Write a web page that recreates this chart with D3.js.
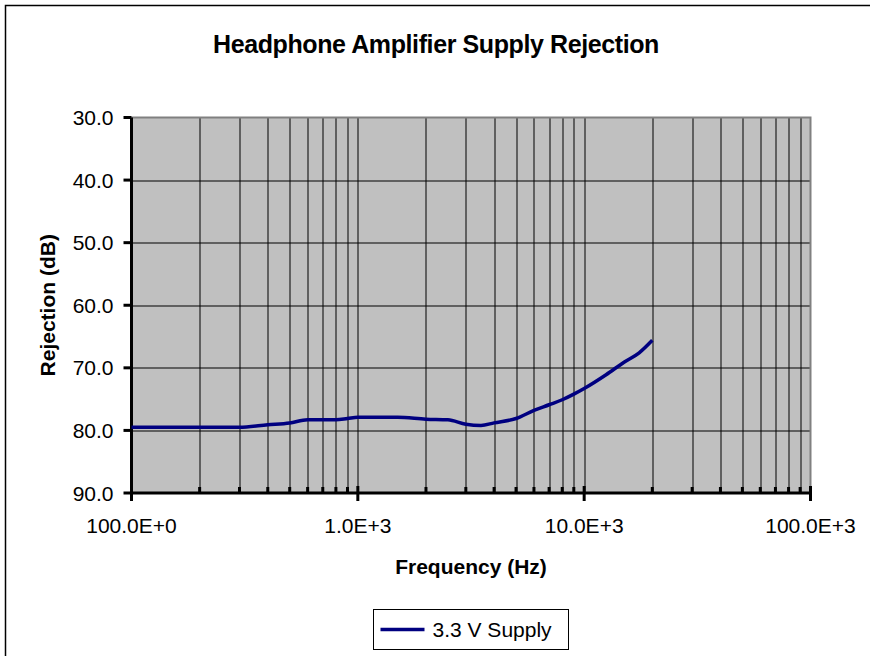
<!DOCTYPE html>
<html>
<head>
<meta charset="utf-8">
<script src="https://cdn.jsdelivr.net/npm/d3@7"></script>
<style>
  body { margin: 0; background: #fff; }
  svg { display: block; font-family: "Liberation Sans", Arial, sans-serif; }
</style>
</head>
<body>
<svg id="chart" width="870" height="656"></svg>
<script>
// data
const freqs = [100, 200, 300, 400, 500, 600, 700, 800, 900, 1000, 1500, 2000, 2500,
  3000, 3500, 4000, 5000, 6000, 7000, 8000, 9000, 10000, 12500, 15000, 17500, 20000]
const rejection = [79.5, 79.5, 79.5, 79.1, 78.8, 78.3, 78.3, 78.3, 78.1, 77.9, 77.9, 78.2, 78.3,
  79.0, 79.2, 78.8, 78.1, 76.8, 75.9, 75.1, 74.2, 73.3, 71.1, 69.1, 67.6, 65.6]
const seriesName = '3.3 V Supply'
const yTicks = [30, 40, 50, 60, 70, 80, 90]
const xMajor = [100, 1000, 10000, 100000]
const xTickLabels = ['100.0E+0', '1.0E+3', '10.0E+3', '100.0E+3']

const svg = d3.select('#chart')
const margin = {top: 117.5, right: 59.5, bottom: 163, left: 131.5}
const width = 870 - margin.left - margin.right
const height = 656 - margin.top - margin.bottom

// outer frame
svg.append('rect')
  .attr('x', 5.5).attr('y', 5.5)
  .attr('width', 880).attr('height', 680)
  .attr('fill', 'none').attr('stroke', '#000').attr('stroke-width', 1.5)

svg.append('text')
  .attr('x', 436).attr('y', 53)
  .attr('text-anchor', 'middle')
  .attr('font-size', 25).attr('font-weight', 'bold')
  .attr('letter-spacing', -0.4)
  .text('Headphone Amplifier Supply Rejection')

const g = svg.append('g').attr('transform', `translate(${margin.left},${margin.top})`)

const x = d3.scaleLog().domain([100, 100000]).range([0, width])
const y = d3.scaleLinear().domain([30, 90]).range([0, height])

// minor positions 2..9 in every decade
const xMinor = []
xMajor.slice(0, -1).forEach(d => {
  for (let k = 2; k <= 9; k++) xMinor.push(d * k)
})

g.append('rect')
  .attr('width', width).attr('height', height)
  .attr('fill', '#c0c0c0')

// grid
g.append('g').selectAll('line').data(xMinor.concat(xMajor.slice(1, -1)))
  .join('line')
  .attr('x1', d => Math.round(x(d)) + 0.5).attr('x2', d => Math.round(x(d)) + 0.5)
  .attr('y1', 0).attr('y2', height)
  .attr('stroke', '#000').attr('stroke-width', 1)
g.append('g').selectAll('line').data(yTicks.slice(1, -1))
  .join('line')
  .attr('x1', 0).attr('x2', width)
  .attr('y1', d => Math.round(y(d)) + 0.5).attr('y2', d => Math.round(y(d)) + 0.5)
  .attr('stroke', '#000').attr('stroke-width', 1)

// top / right border of the plot area
g.append('path')
  .attr('d', `M0,0H${width}V${height}`)
  .attr('fill', 'none').attr('stroke', '#808080').attr('stroke-width', 2)

// y axis
const yAxis = g.append('g')
yAxis.append('line')
  .attr('x1', 0).attr('x2', 0).attr('y1', 0).attr('y2', height)
  .attr('stroke', '#000').attr('stroke-width', 3)
yAxis.selectAll('line.tick').data(yTicks).join('line')
  .attr('class', 'tick')
  .attr('x1', -8).attr('x2', 0)
  .attr('y1', d => y(d)).attr('y2', d => y(d))
  .attr('stroke', '#000').attr('stroke-width', 3)
yAxis.selectAll('text').data(yTicks).join('text')
  .attr('x', -18).attr('y', d => y(d))
  .attr('dy', '0.36em')
  .attr('text-anchor', 'end')
  .attr('font-size', 21)
  .text(d3.format('.1f'))

// x axis
const xAxis = g.append('g').attr('transform', `translate(0,${height})`)
xAxis.append('line')
  .attr('x1', 0).attr('x2', width)
  .attr('stroke', '#000').attr('stroke-width', 3)
xAxis.selectAll('line.major').data(xMajor).join('line')
  .attr('class', 'major')
  .attr('x1', d => x(d)).attr('x2', d => x(d))
  .attr('y1', -7).attr('y2', 8)
  .attr('stroke', '#000').attr('stroke-width', 3)
xAxis.selectAll('line.minor').data(xMinor).join('line')
  .attr('class', 'minor')
  .attr('x1', d => x(d)).attr('x2', d => x(d))
  .attr('y1', -6).attr('y2', 0)
  .attr('stroke', '#000').attr('stroke-width', 3)
xAxis.selectAll('text').data(xMajor).join('text')
  .attr('x', d => x(d)).attr('y', 40)
  .attr('text-anchor', 'middle')
  .attr('font-size', 21)
  .text((d, i) => xTickLabels[i])

// axis titles
svg.append('text')
  .attr('x', margin.left + width / 2).attr('y', 574)
  .attr('text-anchor', 'middle')
  .attr('font-size', 21).attr('font-weight', 'bold')
  .text('Frequency (Hz)')
svg.append('text')
  .attr('transform', `translate(55,${margin.top + height / 2}) rotate(-90)`)
  .attr('text-anchor', 'middle')
  .attr('font-size', 21).attr('font-weight', 'bold')
  .text('Rejection (dB)')

// series
const line = d3.line()
  .x((d, i) => x(freqs[i]))
  .y(d => y(d))
  .curve(d3.curveMonotoneX)
g.append('path')
  .datum(rejection)
  .attr('fill', 'none')
  .attr('stroke', '#000080')
  .attr('stroke-width', 3.5)
  .attr('stroke-linejoin', 'round')
  .attr('d', line)

// legend
const legend = svg.append('g').attr('transform', 'translate(373.5,609.5)')
legend.append('rect')
  .attr('width', 195).attr('height', 40)
  .attr('fill', '#fff').attr('stroke', '#000').attr('stroke-width', 1)
legend.append('line')
  .attr('x1', 7).attr('x2', 51).attr('y1', 20).attr('y2', 20)
  .attr('stroke', '#000080').attr('stroke-width', 3.5)
legend.append('text')
  .attr('x', 59).attr('y', 20).attr('dy', '0.36em')
  .attr('font-size', 21)
  .text(seriesName)
</script>
</body>
</html>
